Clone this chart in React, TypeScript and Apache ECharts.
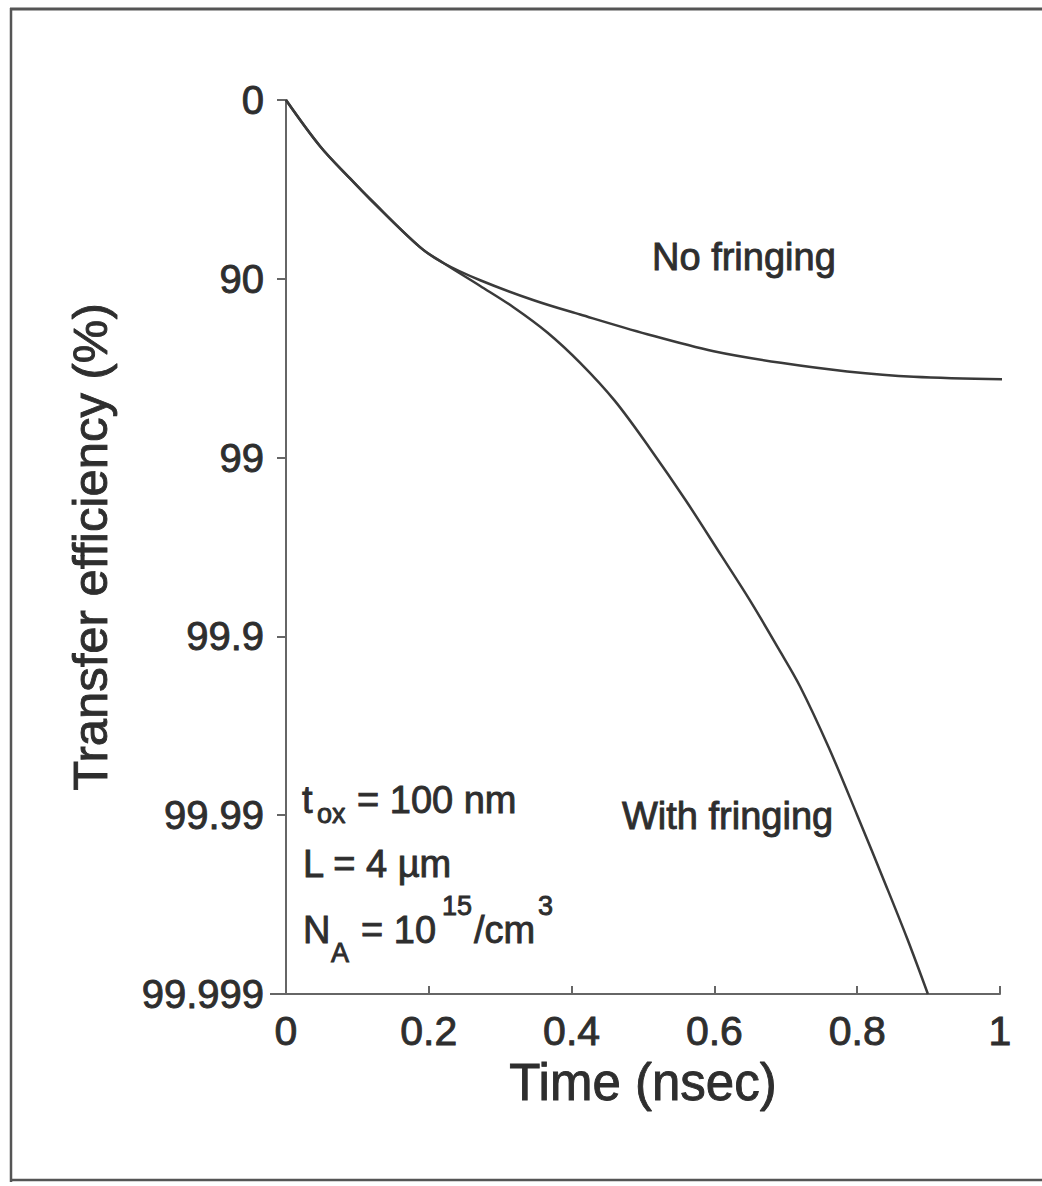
import React, { useEffect, useRef } from "react";
import * as echarts from "echarts";

// Tick labels of the efficiency axis (one per decade of inefficiency)
const yTickLabels = ["0", "90", "99", "99.9", "99.99", "99.999"];

// Time (nsec) and inefficiency decades, i.e. -log10(1 - efficiency)
const noFringeTime = [0, 0.048, 0.09, 0.118, 0.188, 0.221, 0.272, 0.347, 0.412, 0.506, 0.599, 0.693, 0.786, 0.879, 1.01];
const noFringeDecades = [0, 0.26, 0.44, 0.555, 0.824, 0.913, 1.008, 1.12, 1.2, 1.31, 1.405, 1.47, 1.518, 1.548, 1.562];

const withFringeTime = [0, 0.048, 0.09, 0.118, 0.188, 0.221, 0.272, 0.319, 0.366, 0.412, 0.46, 0.51, 0.56, 0.61, 0.65, 0.69, 0.72, 0.76, 0.8, 0.84, 0.87, 0.899];
const withFringeDecades = [0, 0.26, 0.44, 0.555, 0.824, 0.913, 1.04, 1.16, 1.3, 1.47, 1.68, 1.95, 2.24, 2.55, 2.8, 3.07, 3.28, 3.62, 4.0, 4.39, 4.69, 5.0];

const FONT = "'Liberation Sans', Arial, Helvetica, sans-serif";
const INK = "#2e2e2e";
const LINE = "#3a3a3a";
const AXIS = "#666666";
const THICK = 0.9;

function toSeries(t: number[], d: number[]) {
  return t.map((x, i) => [x, Math.pow(10, -d[i])]);
}

export default function App() {
  const ref = useRef<HTMLDivElement>(null);
  useEffect(() => {
    if (!ref.current) return;
    const chart = echarts.init(ref.current, null, { renderer: "svg" });
    const txt = (text: string, x: number, y: number, size: number, align = "left") => ({
      type: "text",
      x,
      y,
      style: {
        text,
        fill: INK,
        stroke: INK,
        lineWidth: THICK,
        font: `${size}px ${FONT}`,
        align,
        verticalAlign: "middle",
      },
    });
    const textStyle = (size: number) => ({
      fontFamily: FONT,
      fontSize: size,
      color: INK,
      textBorderColor: INK,
      textBorderWidth: THICK,
    });
    chart.setOption({
      animation: false,
      backgroundColor: "#ffffff",
      grid: { left: 286, right: 42, top: 100, bottom: 192 },
      xAxis: {
        type: "value",
        min: 0,
        max: 1,
        interval: 0.2,
        name: "Time (nsec)",
        nameLocation: "middle",
        nameGap: 62,
        nameTextStyle: textStyle(51),
        axisLine: { show: true, onZero: false, lineStyle: { color: AXIS, width: 2 } },
        axisTick: { show: true, inside: true, length: 8, lineStyle: { color: AXIS, width: 2 } },
        axisLabel: { ...textStyle(41), margin: 16 },
        splitLine: { show: false },
      },
      yAxis: {
        type: "log",
        logBase: 10,
        min: 0.00001,
        max: 1,
        name: "Transfer efficiency (%)",
        nameLocation: "middle",
        nameRotate: 90,
        nameGap: 172,
        nameTextStyle: textStyle(49),
        axisLine: { show: true, lineStyle: { color: AXIS, width: 2 } },
        axisTick: { show: true, inside: false, length: 9, lineStyle: { color: AXIS, width: 2 } },
        axisLabel: {
          ...textStyle(40),
          margin: 22,
          formatter: (v: number) => yTickLabels[Math.round(-Math.log10(v))] ?? "",
        },
        splitLine: { show: false },
        minorTick: { show: false },
      },
      series: [
        {
          name: "No fringing",
          type: "line",
          data: toSeries(noFringeTime, noFringeDecades),
          showSymbol: false,
          smooth: 0.35,
          clip: false,
          lineStyle: { color: LINE, width: 2.5 },
        },
        {
          name: "With fringing",
          type: "line",
          data: toSeries(withFringeTime, withFringeDecades),
          showSymbol: false,
          smooth: 0.35,
          clip: false,
          lineStyle: { color: LINE, width: 2.5 },
        },
      ],
      graphic: [
        { type: "line", shape: { x1: 10, y1: 9, x2: 1042, y2: 9 }, style: { stroke: "#555", lineWidth: 3 } },
        { type: "line", shape: { x1: 11, y1: 8, x2: 11, y2: 1182 }, style: { stroke: "#555", lineWidth: 2.5 } },
        { type: "line", shape: { x1: 10, y1: 1180, x2: 1042, y2: 1180 }, style: { stroke: "#555", lineWidth: 2.5 } },
        { type: "line", shape: { x1: 270, y1: 994, x2: 286, y2: 994 }, style: { stroke: AXIS, lineWidth: 2 } },
        txt("No fringing", 652, 257, 38),
        txt("With fringing", 622, 816, 38),
        txt("t", 302, 800, 38),
        txt("ox", 317, 814, 27),
        txt("= 100 nm", 357, 800, 38),
        txt("L = 4 \u00b5m", 303, 864, 38),
        txt("N", 303, 930, 38),
        txt("A", 331, 953, 27),
        txt("= 10", 361, 930, 38),
        txt("15", 442, 906, 27),
        txt("/cm", 474, 930, 38),
        txt("3", 538, 906, 27),
      ],
    });
    return () => chart.dispose();
  }, []);
  return (
    <div
      ref={ref}
      style={{ position: "absolute", left: 0, top: 0, width: 1042, height: 1186, background: "#fff" }}
    />
  );
}
